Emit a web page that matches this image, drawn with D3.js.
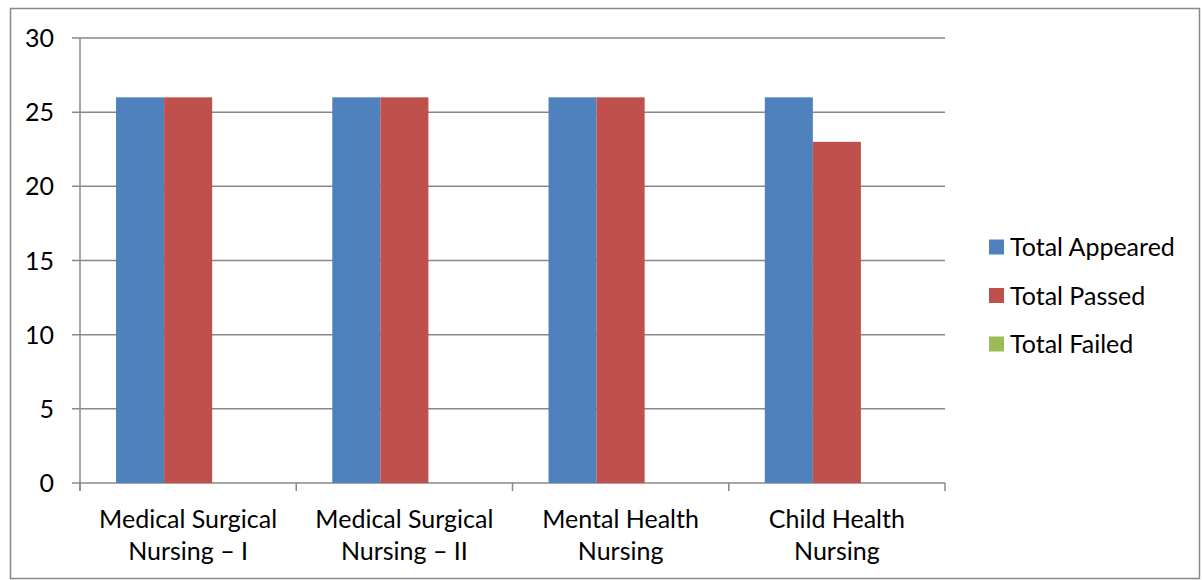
<!DOCTYPE html>
<html><head><meta charset="utf-8">
<script src="https://cdn.jsdelivr.net/npm/d3@7"></script>
<style>body{margin:0;background:#fff}svg{display:block}text{font-family:Lato,"Open Sans",sans-serif;fill:#000}</style>
</head><body><svg id="c" width="1202" height="580"></svg>
<script>
const categories = [["Medical Surgical","Nursing – I"],["Medical Surgical","Nursing – II"],["Mental Health","Nursing"],["Child Health","Nursing"]];
const seriesNames = ["Total Appeared","Total Passed","Total Failed"];
const appeared = [26,26,26,26];
const passed = [26,26,26,23];
const failed = [0,0,0,0];
const colors = ["#4f81bd","#c0504d","#9bbb59"];
const yTicks = [0,5,10,15,20,25,30];

const svg = d3.select("#c");
svg.append("rect").attr("x",10.5).attr("y",8.5).attr("width",1189).attr("height",570).attr("fill","none").attr("stroke","#888").attr("stroke-width",1.5);

const L=80,R=945,T=38,B=483;
const x = d3.scaleBand().domain(d3.range(categories.length)).range([L,R]).paddingInner(1/3).paddingOuter(1/6);
const y = d3.scaleLinear().domain([0,30]).range([B,T]);
const series=[appeared,passed,failed];
const xs = d3.scaleBand().domain(d3.range(series.length)).range([0,x.bandwidth()]);

svg.append("g").selectAll("line").data(yTicks).join("line")
 .attr("x1",L-8).attr("x2",R).attr("y1",d=>y(d)).attr("y2",d=>y(d)).attr("stroke","#888").attr("stroke-width",1.5);
svg.append("line").attr("x1",L).attr("x2",L).attr("y1",T).attr("y2",B+8).attr("stroke","#888").attr("stroke-width",1.5);
const xt=d3.range(categories.length+1).map(i=>L+(R-L)*i/categories.length);
svg.append("g").selectAll("line").data(xt).join("line").attr("x1",d=>d).attr("x2",d=>d).attr("y1",B).attr("y2",B+8).attr("stroke","#888").attr("stroke-width",1.5);

series.forEach((s,si)=>{
 svg.append("g").selectAll("rect").data(s).join("rect")
  .attr("x",(d,i)=>x(i)+xs(si)).attr("width",xs.bandwidth())
  .attr("y",d=>y(d)).attr("height",d=>B-y(d)).attr("fill",colors[si]);
});

svg.append("g").selectAll("text").data(yTicks).join("text")
 .attr("x",54).attr("y",d=>y(d)).attr("dy","0.36em").attr("text-anchor","end").attr("font-size",25).text(d=>d);
categories.forEach((c,i)=>{
 const t=svg.append("text").attr("text-anchor","middle").attr("font-size",25);
 c.forEach((ln,j)=>t.append("tspan").attr("x",x(i)+x.bandwidth()/2).attr("y",528+j*32).text(ln));
});
seriesNames.forEach((n,i)=>{
 const yy=247+i*48.5;
 svg.append("rect").attr("x",989).attr("y",yy-7.5).attr("width",15).attr("height",15).attr("fill",colors[i]);
 svg.append("text").attr("x",1010).attr("y",yy).attr("dy","0.36em").attr("font-size",25).text(n);
});
</script></body></html>
